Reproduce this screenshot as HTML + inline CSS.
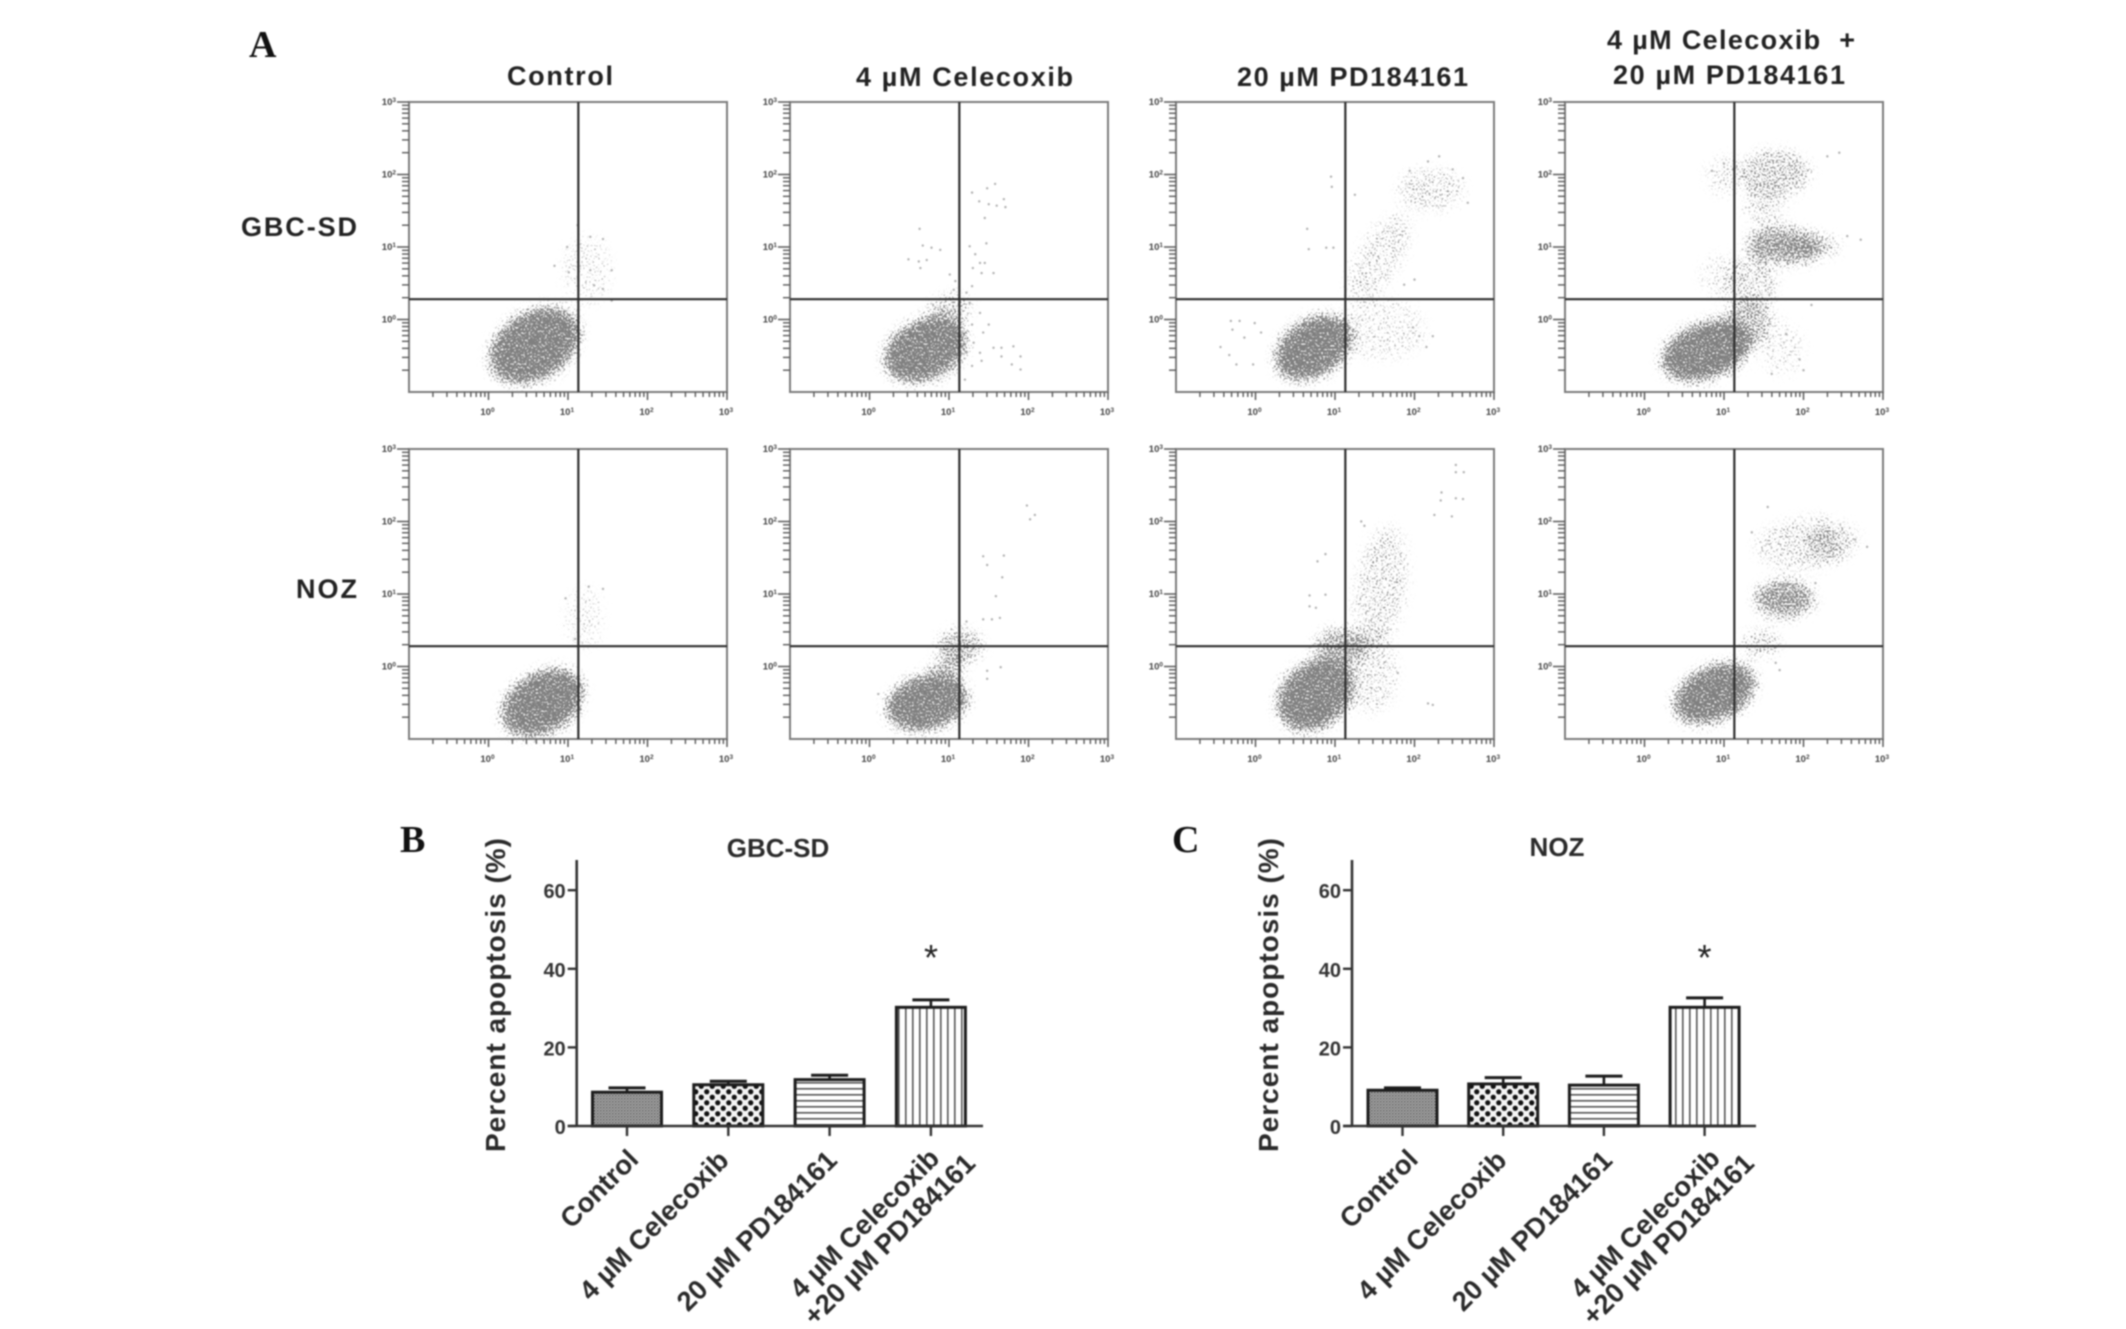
<!DOCTYPE html>
<html lang="en">
<head>
<meta charset="utf-8">
<title>Apoptosis flow cytometry and bar charts</title>
<style>
html,body{margin:0;padding:0;background:#fff;width:2126px;height:1329px;overflow:hidden}
svg{display:block;filter:blur(0.7px)}
text{font-family:"Liberation Sans",sans-serif;fill:#222}
.pl{font-weight:bold;font-size:27px}
.letter{font-family:"Liberation Serif",serif;font-weight:bold;font-size:38px;fill:#111}
.ttl{font-weight:bold;font-size:26px;fill:#2a2a2a}
.yt{font-weight:bold;font-size:28px;fill:#2a2a2a}
.xl{font-weight:bold;font-size:27.3px;fill:#2a2a2a}
.tk{font-weight:bold;font-size:20px;fill:#333}
.ft{font-weight:bold;font-size:9.5px;fill:#444}
</style>
</head>
<body>
<svg id="fig" xmlns="http://www.w3.org/2000/svg" width="2126" height="1329" viewBox="0 0 2126 1329">
  <defs>
    <filter id="speckle" filterUnits="userSpaceOnUse" x="0" y="0" width="2126" height="1329" color-interpolation-filters="sRGB">
      <feGaussianBlur in="SourceAlpha" stdDeviation="6" result="den"/>
      <feTurbulence type="fractalNoise" baseFrequency="0.55" numOctaves="2" seed="7" result="t"/>
      <feColorMatrix in="t" type="matrix" values="0 0 0 0 0  0 0 0 0 0  0 0 0 0 0  2.6 0 0 0 -0.8" result="noise"/>
      <feComposite in="den" in2="noise" operator="arithmetic" k1="0" k2="3.5" k3="3.5" k4="-3.5" result="mask"/>
      <feFlood flood-color="#808080"/>
      <feComposite in2="mask" operator="in"/>
    </filter>
    <pattern id="hatch-fine" width="3" height="3" patternUnits="userSpaceOnUse">
      <rect width="3" height="3" fill="#b0b0b0"/>
      <rect width="1.5" height="1.5" fill="#5a5a5a"/>
      <rect x="1.5" y="1.5" width="1.5" height="1.5" fill="#7c7c7c"/>
    </pattern>
    <pattern id="hatch-dots" width="11" height="11" patternUnits="userSpaceOnUse">
      <rect width="11" height="11" fill="#f4f4f4"/>
      <circle cx="2.75" cy="2.75" r="2.6" fill="#111"/>
      <circle cx="8.25" cy="8.25" r="2.6" fill="#111"/>
    </pattern>
    <pattern id="hatch-h" width="6" height="6" patternUnits="userSpaceOnUse">
      <rect width="6" height="6" fill="#fff"/>
      <rect y="2" width="6" height="1.6" fill="#555"/>
    </pattern>
    <pattern id="hatch-v" width="7" height="7" patternUnits="userSpaceOnUse">
      <rect width="7" height="7" fill="#fff"/>
      <rect x="2" width="1.6" height="7" fill="#555"/>
    </pattern>
  </defs>

  <rect width="2126" height="1329" fill="#fff"/>
  <g id="clouds" filter="url(#speckle)"></g>
  <g id="dots"></g>
  <g id="axes"></g>
  <g id="bars"></g>

  <text class="letter" x="249" y="57">A</text>
  <text class="letter" x="400" y="852">B</text>
  <text class="letter" x="1172" y="852">C</text>

  <text class="pl" x="507" y="85" textLength="106">Control</text>
  <text class="pl" x="856" y="86" textLength="217">4 µM Celecoxib</text>
  <text class="pl" x="1237" y="86" textLength="231">20 µM PD184161</text>
  <text class="pl" x="1607" y="49" textLength="248">4 µM Celecoxib&#160; +</text>
  <text class="pl" x="1613" y="84" textLength="232">20 µM PD184161</text>

  <text class="pl" x="241" y="236" textLength="116">GBC-SD</text>
  <text class="pl" x="296" y="598" textLength="61">NOZ</text>

  <text class="ttl" x="778" y="857" text-anchor="middle">GBC-SD</text>
  <text class="ttl" x="1557" y="856" text-anchor="middle">NOZ</text>

  <text class="yt" transform="translate(505 1152) rotate(-90)" textLength="314">Percent apoptosis (%)</text>
  <text class="yt" transform="translate(1278 1152) rotate(-90)" textLength="314">Percent apoptosis (%)</text>
</svg>

<script>
/* ---------- bar chart data ---------- */
const barCategories = ['Control', '4 µM Celecoxib', '20 µM PD184161', '4 µM Celecoxib'];
const barCategoryLine2 = ['', '', '', '+20 µM PD184161'];
const gbcMeans = [8.6, 10.5, 11.8, 30.2];
const gbcErrors = [1.1, 0.9, 1.1, 1.9];
const nozMeans = [9.1, 10.7, 10.4, 30.2];
const nozErrors = [0.6, 1.6, 2.3, 2.4];
const barYTicks = [0, 20, 40, 60];

/* ---------- flow cytometry data: log10 coordinates ---------- */
const xDecades = [0, 1, 2, 3];
const yDecades = [0, 1, 2, 3];
const gateX = 1.13;
const gateY = 0.28;

/* clouds: [log x, log y, x radius (decades), y radius (decades), tilt degrees, density] */
const gbcControlClouds = [[0.58, -0.36, 0.62, 0.47, -32, 1], [1.24, 0.68, 0.3, 0.48, 0, 0.18]];
const gbcCelecoxibClouds = [[0.7, -0.42, 0.55, 0.42, -25, 1], [0.96, 0.05, 0.34, 0.25, -40, 0.45]];
const gbcPdClouds = [[0.73, -0.39, 0.53, 0.4, -32, 1], [1.55, 0.85, 0.65, 0.3, -60, 0.26], [2.2, 1.79, 0.42, 0.3, 0, 0.28], [1.6, -0.14, 0.55, 0.42, 0, 0.2]];
const gbcComboClouds = [[0.78, -0.43, 0.6, 0.39, -20, 1], [1.26, -0.08, 0.38, 0.32, -40, 0.5], [1.76, 1.02, 0.48, 0.26, 5, 0.7], [2.14, 1.02, 0.32, 0.16, 0, 0.42], [1.64, 2.01, 0.46, 0.33, 0, 0.43], [1.51, 1.57, 0.26, 0.26, 0, 0.27], [1.0, 1.99, 0.22, 0.28, 0, 0.22], [1.34, 0.51, 0.32, 0.42, 0, 0.32], [0.96, 0.6, 0.26, 0.3, 0, 0.18], [1.72, -0.4, 0.28, 0.38, 0, 0.18]];
const nozControlClouds = [[0.68, -0.5, 0.56, 0.42, -30, 1], [1.21, 0.67, 0.24, 0.42, 0, 0.18]];
const nozCelecoxibClouds = [[0.72, -0.5, 0.53, 0.38, -15, 1], [0.95, -0.09, 0.28, 0.22, -50, 0.5], [1.14, 0.28, 0.28, 0.24, 0, 0.56]];
const nozPdClouds = [[0.75, -0.39, 0.53, 0.45, -40, 1], [1.08, 0.28, 0.34, 0.25, 0, 0.62], [1.58, 1.1, 0.32, 0.85, 8, 0.29], [1.45, -0.09, 0.34, 0.55, 0, 0.26]];
const nozComboClouds = [[0.88, -0.37, 0.55, 0.38, -25, 1], [1.76, 0.94, 0.38, 0.27, 0, 0.72], [2.05, 1.7, 0.66, 0.36, -5, 0.28], [2.26, 1.7, 0.24, 0.24, 0, 0.38], [1.47, 0.32, 0.24, 0.2, 0, 0.36]];

/* individual events: [log x, log y] */
const gbcControlPoints = [[1.12,1.30],[1.28,1.14],[1.44,1.11],[0.99,1.0],[0.83,0.74],[1.01,0.65],[1.28,0.68],[1.55,0.68],[1.33,0.47],[1.44,0.42],[1.55,0.26]];
const gbcCelecoxibPoints = [[1.29,1.75],[1.48,1.81],[1.58,1.87],[1.38,1.63],[1.50,1.59],[1.60,1.57],[1.69,1.66],[1.71,1.55],[1.45,1.40],[0.63,1.25],[0.67,1.02],[0.78,0.99],[0.89,0.96],[0.49,0.83],[0.62,0.80],[0.72,0.82],[0.64,0.71],[1.26,1.01],[1.47,1.05],[1.33,0.90],[1.39,0.78],[1.45,0.78],[1.30,0.71],[1.41,0.64],[1.56,0.64],[1.01,0.62],[1.08,0.53],[1.29,0.46],[1.22,0.37],[1.06,0.41],[1.26,0.23],[1.29,-0.07],[1.39,0.09],[1.50,-0.07],[1.43,-0.18],[1.31,-0.32],[1.39,-0.46],[1.29,-0.64],[1.41,-0.57],[1.56,-0.39],[1.66,-0.39],[1.81,-0.37],[1.90,-0.51],[1.79,-0.62],[1.90,-0.69],[1.66,-0.51],[1.22,-0.46],[1.20,-0.83]];
const gbcPdPoints = [[-0.31,-0.02],[-0.20,-0.02],[-0.29,-0.14],[-0.14,-0.25],[-0.44,-0.38],[-0.33,-0.49],[-0.24,-0.62],[-0.03,-0.62],[0.07,-0.18],[-0.01,-0.05],[0.65,1.25],[0.67,0.97],[0.89,0.99],[0.98,0.99],[0.95,1.97],[0.96,1.83],[1.25,1.72],[2.06,-0.23],[2.23,-0.23],[2.15,-0.38],[1.98,-0.11],[2.31,2.25],[2.17,2.18],[2.67,1.61],[2.61,1.95],[2.48,2.07],[1.94,2.05],[2.0,0.55],[1.87,0.48]];
const gbcComboPoints = [[2.45,2.3],[2.3,2.25],[1.0,2.15],[0.85,2.05],[2.1,0.2],[1.95,-0.55],[2.0,-0.7],[1.78,-0.2],[1.6,-0.75],[2.55,1.15],[2.72,1.1]];
const nozControlPoints = [[1.44,1.07],[0.97,0.94],[1.09,0.38],[1.26,1.10]];
const nozCelecoxibPoints = [[1.98,2.22],[2.08,2.09],[2.02,2.03],[1.43,1.52],[1.48,1.40],[1.69,1.53],[1.67,1.23],[1.59,0.97],[1.43,0.65],[1.54,0.65],[1.64,0.67],[1.22,0.62],[1.48,-0.06],[1.65,-0.01],[1.48,-0.17],[0.11,-0.38]];
const nozPdPoints = [[2.52,2.78],[2.52,2.68],[2.62,2.68],[2.34,2.40],[2.33,2.29],[2.52,2.32],[2.61,2.31],[2.25,2.09],[2.47,2.07],[1.33,2.0],[1.37,1.94],[0.88,1.55],[0.78,1.45],[0.68,0.98],[0.88,0.99],[0.68,0.83],[0.76,0.81],[2.17,-0.51],[2.23,-0.53],[1.79,-0.09]];
const nozComboPoints = [[1.35,1.85],[1.55,2.2],[2.65,1.75],[2.8,1.65],[1.4,1.0],[2.15,1.15],[1.25,-0.3],[1.65,0.05],[1.7,-0.05]];

/* ---------- layout ---------- */
const SVGNS = 'http://www.w3.org/2000/svg';
const panelW = 318, panelH = 290;
const columnLefts = [409, 790, 1176, 1565];
const rowTops = [102, 449];
const panels = [
  { name: 'gbc-control', r: 0, c: 0, clouds: gbcControlClouds, points: gbcControlPoints },
  { name: 'gbc-celecoxib', r: 0, c: 1, clouds: gbcCelecoxibClouds, points: gbcCelecoxibPoints },
  { name: 'gbc-pd184161', r: 0, c: 2, clouds: gbcPdClouds, points: gbcPdPoints },
  { name: 'gbc-combination', r: 0, c: 3, clouds: gbcComboClouds, points: gbcComboPoints },
  { name: 'noz-control', r: 1, c: 0, clouds: nozControlClouds, points: nozControlPoints },
  { name: 'noz-celecoxib', r: 1, c: 1, clouds: nozCelecoxibClouds, points: nozCelecoxibPoints },
  { name: 'noz-pd184161', r: 1, c: 2, clouds: nozPdClouds, points: nozPdPoints },
  { name: 'noz-combination', r: 1, c: 3, clouds: nozComboClouds, points: nozComboPoints }
];

function mk(parent, tag, attrs, name) {
  const el = document.createElementNS(SVGNS, tag);
  for (const k in attrs) el.setAttribute(k, attrs[k]);
  
  
  parent.appendChild(el);
  return el;
}

const decadeW = panelW / 4, decadeH = panelH / 4;
const minorSteps = [2, 3, 4, 5, 6, 7, 8, 9];
const cloudLayer = document.getElementById('clouds');
const dotLayer = document.getElementById('dots');
const axisLayer = document.getElementById('axes');

function logLabel(parent, x, y, exp, anchor, name) {
  const t = mk(parent, 'text', { class: 'ft', x: x, y: y, 'text-anchor': anchor }, name);
  t.appendChild(document.createTextNode('10'));
  const s = document.createElementNS(SVGNS, 'tspan');
  s.setAttribute('dy', '-3');
  s.setAttribute('font-size', '6.5');
  s.textContent = String(exp);
  t.appendChild(s);
}

panels.forEach(function (p) {
  const left = columnLefts[p.c], top = rowTops[p.r], bottom = top + panelH;
  const X = function (v) { return left + (v + 1) * decadeW; };
  const Y = function (v) { return bottom - (v + 1) * decadeH; };

  p.clouds.forEach(function (c) {
    const cx = X(c[0]), cy = Y(c[1]);
    mk(cloudLayer, 'ellipse', {
      cx: cx, cy: cy, rx: c[2] * decadeW, ry: c[3] * decadeH,
      transform: 'rotate(' + c[4] + ' ' + cx + ' ' + cy + ')',
      fill: '#000', 'fill-opacity': c[5]
    }, 'cell-cloud-' + p.name);
  });
  p.points.forEach(function (pt) {
    mk(dotLayer, 'circle', { cx: X(pt[0]), cy: Y(pt[1]), r: 1.2, fill: '#b0b0b0' }, 'cell-event-' + p.name);
  });

  const g = mk(axisLayer, 'g', {}, 'flow-panel-' + p.name);
  mk(g, 'rect', { x: left, y: top, width: panelW, height: panelH, fill: 'none', stroke: '#7c7c7c', 'stroke-width': 2 }, 'plot-frame');
  mk(g, 'line', { x1: X(gateX), x2: X(gateX), y1: top, y2: bottom, stroke: '#2e2e2e', 'stroke-width': 2.2 }, 'vertical-gate');
  mk(g, 'line', { x1: left, x2: left + panelW, y1: Y(gateY), y2: Y(gateY), stroke: '#2e2e2e', 'stroke-width': 2.2 }, 'horizontal-gate');

  [-1, 0, 1, 2].forEach(function (d) {
    minorSteps.forEach(function (m) {
      const lv = d + Math.log10(m);
      mk(g, 'line', { x1: X(lv), x2: X(lv), y1: bottom, y2: bottom + 5, stroke: '#5a5a5a', 'stroke-width': 1.4 }, 'x-minor-tick');
      mk(g, 'line', { x1: left - 7, x2: left, y1: Y(lv), y2: Y(lv), stroke: '#5a5a5a', 'stroke-width': 1.4 }, 'y-minor-tick');
    });
  });
  xDecades.forEach(function (d) {
    mk(g, 'line', { x1: X(d), x2: X(d), y1: bottom, y2: bottom + 8, stroke: '#5a5a5a', 'stroke-width': 1.5 }, 'x-major-tick');
    logLabel(g, X(d) - 1, bottom + 23, d, 'middle', 'x-tick-label');
  });
  yDecades.forEach(function (d) {
    mk(g, 'line', { x1: left - 12, x2: left, y1: Y(d), y2: Y(d), stroke: '#5a5a5a', 'stroke-width': 1.5 }, 'y-major-tick');
    logLabel(g, left - 13, Y(d) + 3, d, 'end', 'y-tick-label');
  });
});

/* ---------- bar charts ---------- */
const barFills = ['url(#hatch-fine)', 'url(#hatch-dots)', 'url(#hatch-h)', 'url(#hatch-v)'];
const charts = [
  { name: 'gbc-sd', means: gbcMeans, errs: gbcErrors, axisX: 576.7, first: 627, step: 101.3, xEnd: 983, starX: 931, nudge: [13, 2, 9, 10], nudge2: 46 },
  { name: 'noz', means: nozMeans, errs: nozErrors, axisX: 1352, first: 1402.5, step: 100.7, xEnd: 1756, starX: 1704.5, nudge: [17, 5, 10, 17], nudge2: 51 }
];
const baseY = 1126, unitH = 3.93, barW = 69, capW = 37;
const barLayer = document.getElementById('bars');

charts.forEach(function (c) {
  const g = mk(barLayer, 'g', {}, 'bar-chart-' + c.name);
  const V = function (v) { return baseY - v * unitH; };
  const C = function (i) { return c.first + i * c.step; };

  c.means.forEach(function (m, i) {
    const top = V(m), errTop = V(m + c.errs[i]), cx = C(i);
    mk(g, 'line', { x1: cx, x2: cx, y1: top, y2: errTop, stroke: '#1c1c1c', 'stroke-width': 2.6 }, 'error-stem-' + i);
    mk(g, 'line', { x1: cx - capW / 2, x2: cx + capW / 2, y1: errTop, y2: errTop, stroke: '#1c1c1c', 'stroke-width': 3 }, 'error-cap-' + i);
    mk(g, 'rect', { x: cx - barW / 2, y: top, width: barW, height: baseY - top, fill: barFills[i], stroke: '#1c1c1c', 'stroke-width': 3 }, 'bar-' + i);
    mk(g, 'line', { x1: cx, x2: cx, y1: baseY, y2: baseY + 10, stroke: '#333', 'stroke-width': 2.4 }, 'x-tick-' + i);

    const lab = mk(g, 'text', { class: 'xl', 'text-anchor': 'end', transform: 'translate(' + (cx + c.nudge[i]) + ' ' + (baseY + (i === 0 ? 35 : i === 3 ? 34 : 36)) + ') rotate(-45)' }, 'x-label-' + i);
    lab.textContent = barCategories[i];
    if (barCategoryLine2[i]) {
      const lab2 = mk(g, 'text', { class: 'xl', 'text-anchor': 'end', transform: 'translate(' + (cx + c.nudge2) + ' ' + (baseY + 39) + ') rotate(-45)' }, 'x-label-' + i + '-line-2');
      lab2.textContent = barCategoryLine2[i];
    }
  });

  mk(g, 'line', { x1: c.axisX, x2: c.axisX, y1: 860, y2: baseY, stroke: '#333', 'stroke-width': 2.6 }, 'y-axis-line');
  mk(g, 'line', { x1: c.axisX - 9, x2: c.xEnd, y1: baseY, y2: baseY, stroke: '#333', 'stroke-width': 2.6 }, 'x-axis-line');
  barYTicks.forEach(function (t) {
    mk(g, 'line', { x1: c.axisX - 9, x2: c.axisX, y1: V(t), y2: V(t), stroke: '#333', 'stroke-width': 2.4 }, 'y-tick');
    const lab = mk(g, 'text', { class: 'tk', x: c.axisX - 11, y: V(t) + 8, 'text-anchor': 'end' }, 'y-tick-label');
    lab.textContent = String(t);
  });
  const star = mk(g, 'text', { x: c.starX, y: 970, 'text-anchor': 'middle', 'font-size': 36 }, 'significance-asterisk');
  star.textContent = '*';
});
</script>
</body>
</html>
